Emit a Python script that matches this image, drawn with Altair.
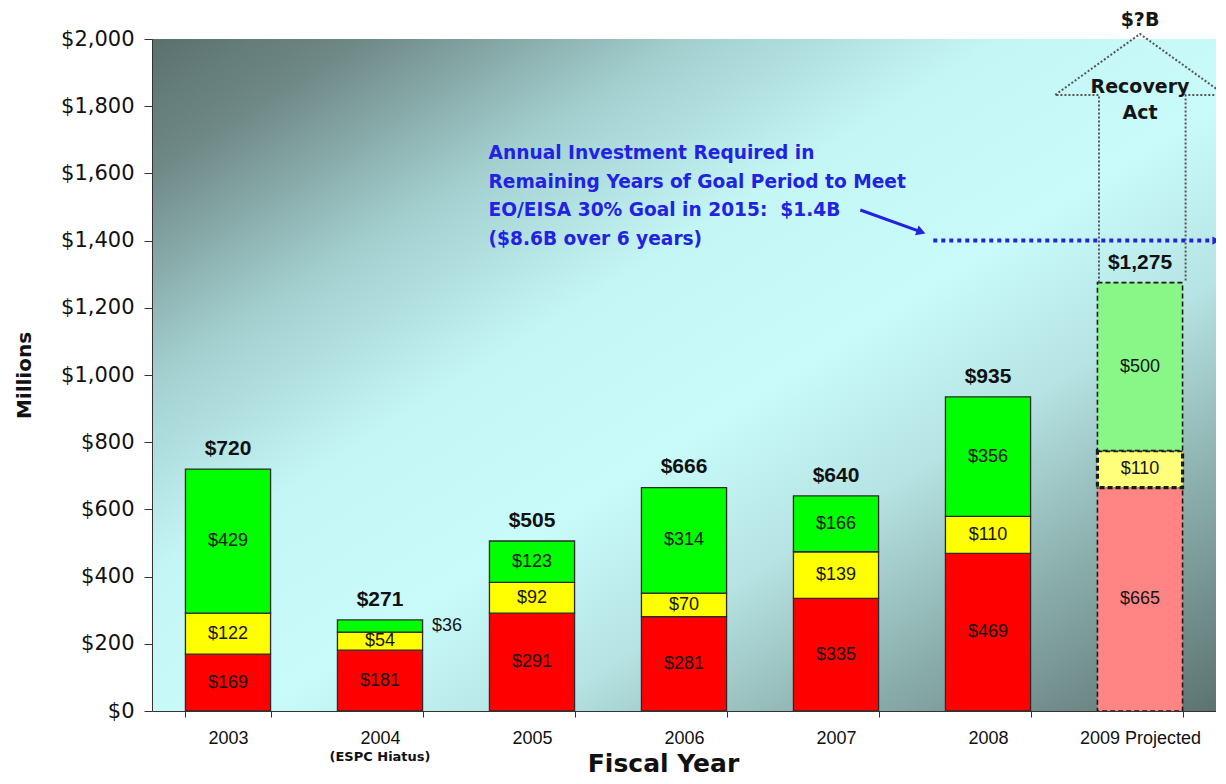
import altair as alt
import pandas as pd

# ---------------- data ----------------
years = ["2003", "2004", "2005", "2006", "2007", "2008", "2009 Projected"]
red_vals = [169, 181, 291, 281, 335, 469, 665]
yellow_vals = [122, 54, 92, 70, 139, 110, 110]
green_vals = [429, 36, 123, 314, 166, 356, 500]
totals = [720, 271, 505, 666, 640, 935, 1275]
y_ticks = [0, 200, 400, 600, 800, 1000, 1200, 1400, 1600, 1800, 2000]

sub_label_year = ["2004"]
sub_label_text = ["(ESPC Hiatus)"]

# annotation geometry in data units (x: band index units, y: $ millions)
arrow_x = [6.23, 6.23, 5.94, 6.5, 7.06, 6.8, 6.8]
arrow_y = [1275, 1833, 1833, 2015, 1833, 1833, 1275]
recovery_label = ["Recovery", "Act"]
recovery_pos = [6.5, 1884]
unknown_label = "$?B"
unknown_pos = [6.5, 2058]
goal_value = 1400
goal_x = [5.14, 7.0]
pointer_x = [4.66, 5.06]
pointer_y = [1491, 1426]
note_lines = [
    "Annual Investment Required in",
    "Remaining Years of Goal Period to Meet",
    "EO/EISA 30% Goal in 2015:\u00a0 $1.4B",
    "($8.6B over 6 years)",
]
note_pos = [2.214, 1688]

# ---------------- tables ----------------
rows = []
for i, yr in enumerate(years):
    base = 0
    proj = yr.endswith("Projected")
    for seg, vals in (("red", red_vals), ("yellow", yellow_vals), ("green", green_vals)):
        v = vals[i]
        rows.append(dict(year=yr, seg=seg, cat=seg + ("_p" if proj else ""), value=v,
                         start=base, end=base + v, mid=base + v / 2, proj=proj,
                         outside=v < 45))
        base += v
df = pd.DataFrame(rows)
tot_df = pd.DataFrame(dict(year=years, total=totals))
sub_df = pd.DataFrame(dict(year=sub_label_year, note=sub_label_text))

W, H = 1064, 672
FONT = "Liberation Sans"
WIDE = "DejaVu Sans"
BLUE = "#2222e2"

cat_domain = ["red", "yellow", "green", "red_p", "yellow_p", "green_p"]
cat_range = ["#ff0000", "#ffff00", "#00ff00", "#ff8585", "#ffff7a", "#88f788"]
color_scale = alt.Scale(domain=cat_domain, range=cat_range)

xband = alt.X("year:N", sort=years,
              scale=alt.Scale(domain=years, paddingInner=0.44, paddingOuter=0.22),
              axis=alt.Axis(title="Fiscal Year", titleFont=WIDE, titleFontSize=25,
                            titleFontWeight="bold", titleColor="#111", titlePadding=4,
                            titleX=511,
                            labelFont=FONT, labelFontSize=18, labelColor="#111",
                            labelPadding=12, labelAngle=0, tickSize=6, tickColor="#333",
                            domainColor="#333", tickBand="extent", grid=False, zindex=1))
yscale = alt.Scale(domain=[0, 2000], nice=False, zero=True)
yenc = alt.Y("start:Q", scale=yscale,
             axis=alt.Axis(values=y_ticks, format="$,.0f", title="Millions",
                           titleFont=WIDE, titleFontSize=20, titleFontWeight="bold",
                           titleColor="#111", titlePadding=26, labelFont=WIDE,
                           labelFontSize=21, labelColor="#111", labelPadding=10,
                           tickSize=8, tickColor="#333", domainColor="#333",
                           grid=False, zindex=1))

bg = alt.Chart(pd.DataFrame({"k": [0]})).mark_rect(
    fill=alt.LinearGradient(
        gradient="linear", x1=0, y1=0, x2=1, y2=1,
        stops=[
            alt.GradientStop(color="#5a706e", offset=0),
            alt.GradientStop(color="#6f8987", offset=0.1),
            alt.GradientStop(color="#a2cece", offset=0.25),
            alt.GradientStop(color="#c5f6f6", offset=0.4),
            alt.GradientStop(color="#c9fbfb", offset=0.55),
            alt.GradientStop(color="#b6e3e3", offset=0.68),
            alt.GradientStop(color="#8cb0ae", offset=0.82),
            alt.GradientStop(color="#5c7270", offset=1),
        ])
).encode(x=alt.value(0), x2=alt.value(W), y=alt.value(0), y2=alt.value(H))

bars = alt.Chart(df).transform_filter("!datum.proj").mark_bar(
    stroke="#2a2a2a", strokeWidth=1.3
).encode(x=xband, y=yenc, y2="end:Q",
         color=alt.Color("cat:N", scale=color_scale, legend=None))

proj_bars = alt.Chart(df).transform_filter("datum.proj").mark_bar(
    stroke="#1a1a1a", strokeDash=[5, 3]
).encode(x=xband, y=yenc, y2="end:Q",
         color=alt.Color("cat:N", scale=color_scale, legend=None),
         strokeWidth=alt.condition("datum.seg == 'yellow'", alt.value(3.2), alt.value(1.6)))

in_labels = alt.Chart(df).transform_filter("!datum.outside").mark_text(
    font=FONT, fontSize=18, color="#151515"
).encode(x=xband, y=alt.Y("mid:Q", scale=yscale),
         text=alt.Text("value:Q", format="$,.0f"))

out_labels = alt.Chart(df).transform_filter("datum.outside").mark_text(
    font=FONT, fontSize=18, color="#151515", align="left", dx=52
).encode(x=xband, y=alt.Y("mid:Q", scale=yscale),
         text=alt.Text("value:Q", format="$,.0f"))

tot_labels = alt.Chart(tot_df).mark_text(
    font=FONT, fontSize=21, fontWeight="bold", color="#111", dy=-20
).encode(x=xband, y=alt.Y("total:Q", scale=yscale),
         text=alt.Text("total:Q", format="$,.0f"))

sub_labels = alt.Chart(sub_df).mark_text(
    font=WIDE, fontSize=13, fontWeight="bold", color="#111"
).encode(x=xband, y=alt.value(H + 46), text="note:N")

band_layer = alt.layer(bg, bars, proj_bars, in_labels, out_labels, tot_labels, sub_labels)

# ---------- annotations on a numeric x scale ----------
qscale = alt.Scale(domain=[0, 7], nice=False, zero=False)


def xq(f):
    return alt.X(f, type="quantitative", scale=qscale, axis=None)


def yq(f):
    return alt.Y(f, type="quantitative", scale=yscale, axis=None)


arrow_df = pd.DataFrame({"x": arrow_x, "y": arrow_y, "o": list(range(len(arrow_x)))})
arrow = alt.Chart(arrow_df).mark_line(
    color="#555555", strokeWidth=2, strokeDash=[2, 2]
).encode(x=xq("x"), y=yq("y"), order="o:Q")

rec_df = pd.DataFrame({"x": [recovery_pos[0]], "y": [recovery_pos[1]],
                       "t": ["\n".join(recovery_label)]})
rec_text = alt.Chart(rec_df).mark_text(
    font=WIDE, fontSize=19, fontWeight="bold", color="#151515", baseline="top",
    lineBreak="\n", lineHeight=26
).encode(x=xq("x"), y=yq("y"), text="t:N")

unk_df = pd.DataFrame({"x": [unknown_pos[0]], "y": [unknown_pos[1]], "t": [unknown_label]})
unk_text = alt.Chart(unk_df).mark_text(
    font=WIDE, fontSize=19, fontWeight="bold", color="#151515"
).encode(x=xq("x"), y=yq("y"), text="t:N")

goal_df = pd.DataFrame({"x": [goal_x[0]], "x2": [goal_x[1]], "y": [goal_value]})
goal_rule = alt.Chart(goal_df).mark_rule(
    color=BLUE, strokeWidth=4, strokeDash=[4, 4]
).encode(x=xq("x"), x2="x2:Q", y=yq("y"))

goal_tip = alt.Chart(goal_df).mark_point(
    shape="triangle-right", filled=True, size=70, color=BLUE, opacity=1
).encode(x=xq("x2"), y=yq("y"))

ptr_df = pd.DataFrame({"x": pointer_x, "y": pointer_y, "o": [0, 1]})
ptr_line = alt.Chart(ptr_df).mark_line(color=BLUE, strokeWidth=3).encode(
    x=xq("x"), y=yq("y"), order="o:Q")
ptr_head = alt.Chart(ptr_df).transform_filter("datum.o == 1").mark_point(
    shape="triangle-right", filled=True, size=110, color=BLUE, opacity=1, angle=20
).encode(x=xq("x"), y=yq("y"))

note_df = pd.DataFrame({"x": [note_pos[0]], "y": [note_pos[1]], "t": ["\n".join(note_lines)]})
note_text = alt.Chart(note_df).mark_text(
    font=WIDE, fontSize=18.6, fontWeight="bold", color=BLUE, align="left",
    baseline="top", lineBreak="\n", lineHeight=28.7
).encode(x=xq("x"), y=yq("y"), text="t:N")

quant_layer = alt.layer(arrow, rec_text, unk_text, goal_rule, goal_tip,
                        ptr_line, ptr_head, note_text)

chart = alt.layer(band_layer, quant_layer).resolve_scale(x="independent").resolve_axis(
    y="independent").properties(
    width=W, height=H,
    autosize=alt.AutoSizeParams(type="none"),
    padding={"left": 144, "top": 31, "right": 0, "bottom": 69},
    background="white",
).configure_view(stroke=None)

chart.save("out.html", embed_options={"renderer": "svg", "actions": False})
